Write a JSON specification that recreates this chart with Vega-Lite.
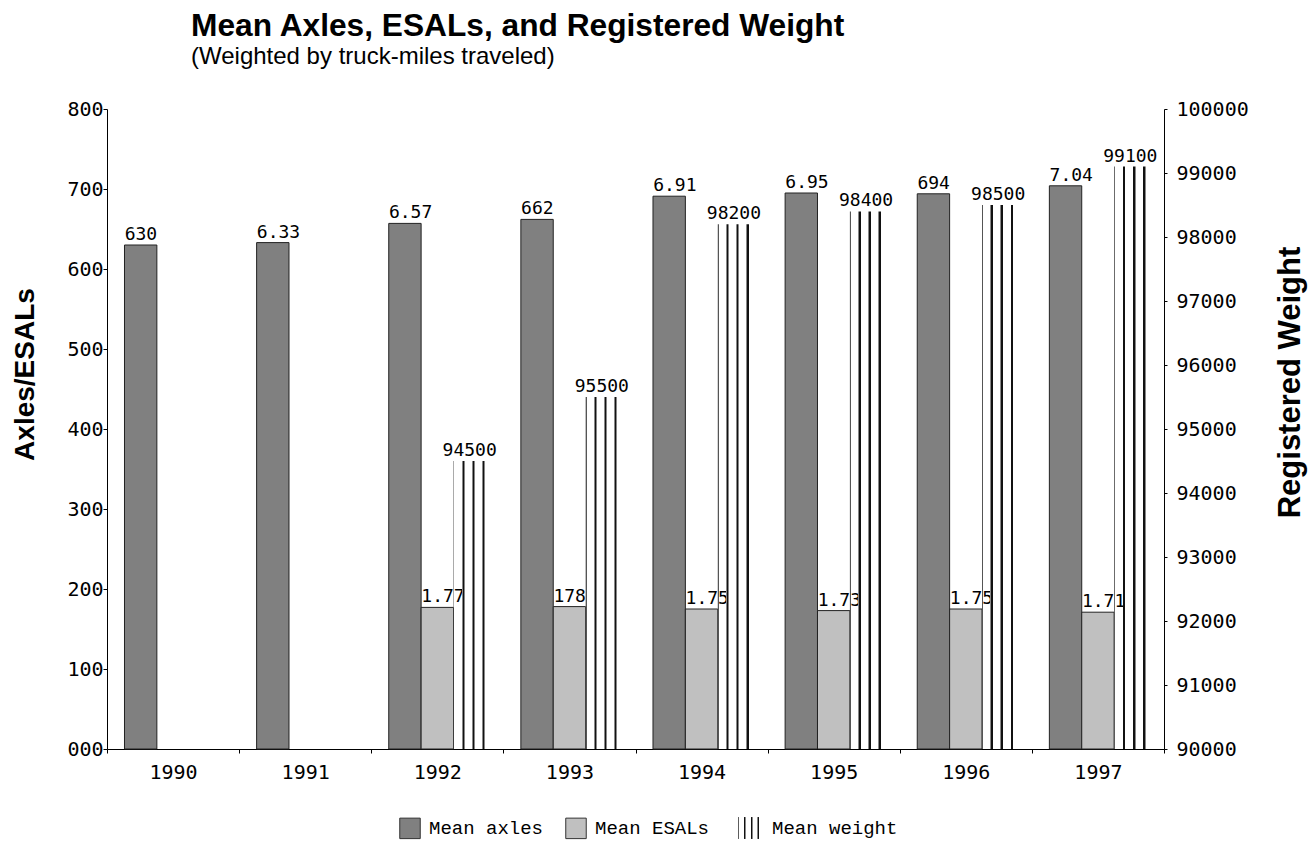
{
  "$schema": "https://vega.github.io/schema/vega-lite/v6.json",
  "width": 1057,
  "height": 640,
  "autosize": "none",
  "padding": {"left": 107, "top": 109, "right": 152, "bottom": 94},
  "background": "white",
  "title": {
    "text": "Mean Axles, ESALs, and Registered Weight",
    "subtitle": "(Weighted by truck-miles traveled)",
    "anchor": "start",
    "frame": "group",
    "dx": 84,
    "offset": 30,
    "font": "Liberation Sans",
    "fontSize": 31.7,
    "fontWeight": "bold",
    "color": "black",
    "subtitleFont": "Liberation Sans",
    "subtitleFontSize": 24,
    "subtitleColor": "black",
    "subtitlePadding": 2
  },
  "data": {
    "values": [
      {"year": "1990", "series": "Mean axles", "value": 630, "label": "630"},
      {"year": "1991", "series": "Mean axles", "value": 633, "label": "6.33"},
      {"year": "1992", "series": "Mean axles", "value": 657, "label": "6.57"},
      {"year": "1993", "series": "Mean axles", "value": 662, "label": "662"},
      {"year": "1994", "series": "Mean axles", "value": 691, "label": "6.91"},
      {"year": "1995", "series": "Mean axles", "value": 695, "label": "6.95"},
      {"year": "1996", "series": "Mean axles", "value": 694, "label": "694"},
      {"year": "1997", "series": "Mean axles", "value": 704, "label": "7.04"},
      {"year": "1992", "series": "Mean ESALs", "value": 177, "label": "1.77"},
      {"year": "1993", "series": "Mean ESALs", "value": 178, "label": "178"},
      {"year": "1994", "series": "Mean ESALs", "value": 175, "label": "1.75"},
      {"year": "1995", "series": "Mean ESALs", "value": 173, "label": "1.73"},
      {"year": "1996", "series": "Mean ESALs", "value": 175, "label": "1.75"},
      {"year": "1997", "series": "Mean ESALs", "value": 171, "label": "1.71"},
      {"year": "1992", "series": "Mean weight", "value": 94500, "label": "94500"},
      {"year": "1993", "series": "Mean weight", "value": 95500, "label": "95500"},
      {"year": "1994", "series": "Mean weight", "value": 98200, "label": "98200"},
      {"year": "1995", "series": "Mean weight", "value": 98400, "label": "98400"},
      {"year": "1996", "series": "Mean weight", "value": 98500, "label": "98500"},
      {"year": "1997", "series": "Mean weight", "value": 99100, "label": "99100"}
    ]
  },
  "encoding": {
    "x": {
      "field": "year",
      "type": "nominal",
      "scale": {"domain": ["1990","1991","1992","1993","1994","1995","1996","1997"], "paddingInner": 0, "paddingOuter": 0},
      "axis": {
        "title": null,
        "labelAngle": 0,
        "labelFont": "DejaVu Sans Mono",
        "labelFontSize": 20,
        "labelColor": "black",
        "labelPadding": 9,
        "labelDx": 5,
        "tickBand": "extent",
        "tickSize": 4,
        "tickColor": "black",
        "domainColor": "black",
        "grid": false
      }
    },
    "xOffset": {
      "field": "series",
      "type": "nominal",
      "scale": {"domain": ["Mean axles", "Mean ESALs", "Mean weight"], "paddingInner": 0, "paddingOuter": 0.54}
    }
  },
  "layer": [
    {
      "transform": [{"filter": "datum.series !== 'Mean weight'"}],
      "encoding": {
        "y": {
          "field": "value",
          "type": "quantitative",
          "scale": {"domain": [0, 800], "nice": false},
          "axis": {
            "orient": "left",
            "values": [0, 100, 200, 300, 400, 500, 600, 700, 800],
            "labelExpr": "datum.value == 0 ? '000' : datum.label",
            "labelFont": "DejaVu Sans Mono",
            "labelFontSize": 20,
            "labelColor": "black",
            "labelPadding": 0,
            "tickSize": 4,
            "tickColor": "black",
            "domainColor": "black",
            "grid": false,
            "title": "Axles/ESALs",
            "titleFont": "Liberation Sans",
            "titleFontSize": 28,
            "titleFontWeight": "bold",
            "titleColor": "black",
            "titleAngle": -90,
            "titleX": -82,
            "titleY": 265,
            "titleAlign": "center",
            "titleBaseline": "middle"
          }
        }
      },
      "layer": [
        {
          "mark": {"type": "bar", "stroke": "#222", "strokeWidth": 1},
          "encoding": {
            "color": {
              "field": "series",
              "type": "nominal",
              "scale": {"domain": ["Mean axles", "Mean ESALs"], "range": ["#808080", "#c0c0c0"]},
              "legend": {
                "orient": "none",
                "legendX": 292,
                "legendY": 708,
                "padding": 0,
                "direction": "horizontal",
                "title": null,
                "symbolType": "square",
                "symbolSize": 420,
                "symbolStrokeColor": "#333",
                "symbolStrokeWidth": 1,
                "labelFont": "Liberation Mono",
                "labelFontSize": 19,
                "labelColor": "black",
                "labelOffset": 8,
                "columnPadding": 19
              }
            }
          }
        },
        {
          "mark": {"type": "text", "align": "left", "baseline": "alphabetic", "dx": -16, "dy": -5, "font": "DejaVu Sans Mono", "fontSize": 18, "color": "black"},
          "encoding": {"text": {"field": "label"}}
        }
      ]
    },
    {
      "transform": [{"filter": "datum.series === 'Mean weight'"}],
      "encoding": {
        "y": {
          "field": "value",
          "type": "quantitative",
          "scale": {"domain": [90000, 100000], "zero": false, "nice": false},
          "axis": {
            "orient": "right",
            "values": [90000, 91000, 92000, 93000, 94000, 95000, 96000, 97000, 98000, 99000, 100000],
            "format": "d",
            "labelFont": "DejaVu Sans Mono",
            "labelFontSize": 20,
            "labelColor": "black",
            "labelPadding": 9,
            "tickSize": 3,
            "tickColor": "black",
            "domainColor": "black",
            "grid": false,
            "title": "Registered Weight",
            "titleFont": "Liberation Sans",
            "titleFontSize": 31,
            "titleFontWeight": "bold",
            "titleColor": "black",
            "titleAngle": -90,
            "titleX": 126,
            "titleY": 273,
            "titleAlign": "center",
            "titleBaseline": "middle"
          }
        }
      },
      "layer": [
        {
          "mark": {
            "type": "bar",
            "fill": {
              "gradient": "linear",
              "x1": 0, "y1": 0, "x2": 1, "y2": 0,
              "stops": [
                {"offset": 0, "color": "#555555"},
                {"offset": 0.03, "color": "#555555"},
                {"offset": 0.03, "color": "rgba(255,255,255,0)"},
                {"offset": 0.26, "color": "rgba(255,255,255,0)"},
                {"offset": 0.26, "color": "#888888"},
                {"offset": 0.28, "color": "#888888"},
                {"offset": 0.28, "color": "#111111"},
                {"offset": 0.33, "color": "#111111"},
                {"offset": 0.33, "color": "#888888"},
                {"offset": 0.35, "color": "#888888"},
                {"offset": 0.35, "color": "rgba(255,255,255,0)"},
                {"offset": 0.57, "color": "rgba(255,255,255,0)"},
                {"offset": 0.57, "color": "#888888"},
                {"offset": 0.59, "color": "#888888"},
                {"offset": 0.59, "color": "#111111"},
                {"offset": 0.64, "color": "#111111"},
                {"offset": 0.64, "color": "#888888"},
                {"offset": 0.66, "color": "#888888"},
                {"offset": 0.66, "color": "rgba(255,255,255,0)"},
                {"offset": 0.88, "color": "rgba(255,255,255,0)"},
                {"offset": 0.88, "color": "#888888"},
                {"offset": 0.9, "color": "#888888"},
                {"offset": 0.9, "color": "#111111"},
                {"offset": 0.95, "color": "#111111"},
                {"offset": 0.95, "color": "#888888"},
                {"offset": 0.97, "color": "#888888"},
                {"offset": 0.97, "color": "rgba(255,255,255,0)"},
                {"offset": 1, "color": "rgba(255,255,255,0)"}
              ]
            }
          },
          "encoding": {
            "y2": {"datum": 90000},
            "opacity": {
              "field": "series",
              "type": "nominal",
              "scale": {"domain": ["Mean weight"], "range": [1]},
              "legend": {
                "orient": "none",
                "legendX": 631,
                "legendY": 708,
                "padding": 0,
                "direction": "horizontal",
                "title": null,
                "symbolType": "square",
                "symbolSize": 480,
                "symbolStrokeWidth": 0,
                "symbolOpacity": 1,
                "labelFont": "Liberation Mono",
                "labelFontSize": 19,
                "labelColor": "black",
                "labelOffset": 12
              }
            }
          }
        },
        {
          "mark": {"type": "text", "align": "center", "baseline": "alphabetic", "dy": -5, "font": "DejaVu Sans Mono", "fontSize": 18, "color": "black"},
          "encoding": {"text": {"field": "label"}}
        }
      ]
    }
  ],
  "resolve": {"scale": {"y": "independent"}},
  "config": {"view": {"stroke": null}}
}
